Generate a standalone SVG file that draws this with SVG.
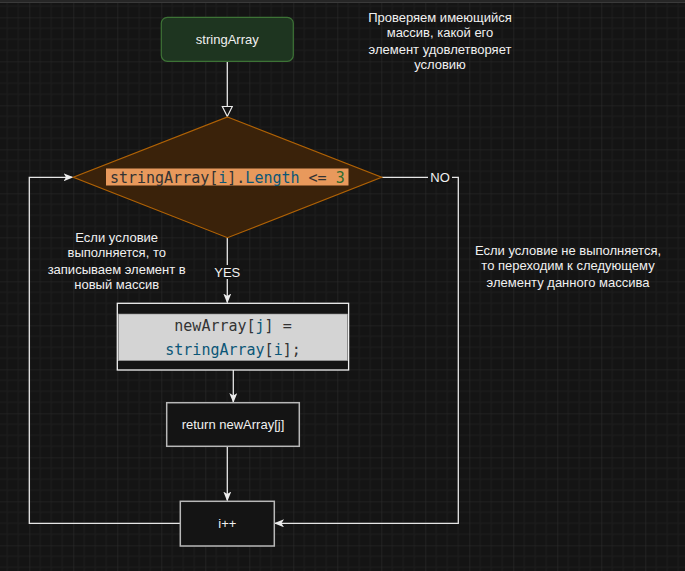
<svg xmlns="http://www.w3.org/2000/svg" width="685" height="571" viewBox="0 0 685 571">
<style>
.lbl{font-family:"Liberation Sans",Arial,sans-serif;font-size:13px;fill:#f0f0f0;text-anchor:middle}
.code{font-family:"DejaVu Sans Mono","Liberation Mono",monospace;font-size:15px;text-anchor:middle}
.conn{fill:none;stroke:#e6e6e6;stroke-width:1.3}
.g{fill:#333333}.b{fill:#0b5677}.n{fill:#2e6b2e}
</style>
<defs>
<pattern id="grid" patternUnits="userSpaceOnUse" x="29.3" y="17.3" width="44" height="44">
<path d="M11,0V44M22,0V44M33,0V44M0,11H44M0,22H44M0,33H44" stroke="#1d1d1d" stroke-width="1"/>
<path d="M0,0V44M0,0H44" stroke="#2b2b2b" stroke-width="1.2"/>
</pattern>
<marker id="arr" viewBox="0 0 10 8" refX="9" refY="4" markerWidth="10" markerHeight="8" markerUnits="userSpaceOnUse" orient="auto">
<path d="M0,0 L10,4 L0,8 L2.5,4 Z" fill="#ececec"/>
</marker>
<marker id="open" viewBox="0 0 12 12" refX="1" refY="6" markerWidth="12" markerHeight="12" markerUnits="userSpaceOnUse" orient="auto">
<path d="M1,1 L11,6 L1,11 Z" fill="#141414" stroke="#ececec" stroke-width="1.2"/>
</marker>
</defs>
<rect width="685" height="571" fill="#141414"/>
<rect width="685" height="571" fill="url(#grid)"/>
<rect width="685" height="3" fill="#262626"/>
<line x1="0" y1="2.5" x2="685" y2="2.5" stroke="#3a3a3a"/>

<g id="connectors">
<path class="conn" d="M227.3,61.5 V106.5" marker-end="url(#open)"/>
<path class="conn" d="M227.3,238 V302.5" marker-end="url(#arr)"/>
<path class="conn" d="M233.3,370 V402" marker-end="url(#arr)"/>
<path class="conn" d="M227.3,446.5 V500.5" marker-end="url(#arr)"/>
<path class="conn" d="M180.3,523.3 H29.3 V177.3 H72.5" marker-end="url(#arr)"/>
<path class="conn" d="M381.7,177.3 H458.3 V523.3 H275" marker-end="url(#arr)"/>
<rect x="428" y="170" width="24" height="14" fill="#141414"/>
<text class="lbl" x="440" y="182">NO</text>
<rect x="211" y="265" width="32" height="14" fill="#141414"/>
<text class="lbl" x="227.3" y="277">YES</text>
</g>

<g id="start">
<rect x="161.3" y="17.3" width="132" height="44" rx="6" fill="#1e3520" stroke="#3d7336" stroke-width="1.2"/>
<text class="lbl" x="227.3" y="44">stringArray</text>
</g>

<g id="decision">
<polygon points="227.5,117 381.7,177.3 227.5,237.7 73.3,177.3" fill="#3a220a" stroke="#b06205" stroke-width="1.2"/>
<rect x="106" y="168.5" width="242.5" height="17" fill="#e8995c"/>
<text class="code" x="227.3" y="182.5"><tspan class="g">stringArray[</tspan><tspan class="b">i</tspan><tspan class="g">].</tspan><tspan class="b">Length</tspan><tspan class="g"> &lt;= </tspan><tspan class="n">3</tspan></text>
</g>

<g id="assign">
<rect x="117.3" y="303.3" width="231.3" height="66.7" fill="#141414" stroke="#f0f0f0" stroke-width="1.3"/>
<rect x="118.3" y="314" width="229.3" height="46.7" fill="#d4d4d4" stroke="#8a8a8a" stroke-width="0.6"/>
<text class="code" x="233" y="331"><tspan class="g">newArray[</tspan><tspan class="b">j</tspan><tspan class="g">] =</tspan></text>
<text class="code" x="233" y="354.5"><tspan class="b">stringArray</tspan><tspan class="g">[</tspan><tspan class="b">i</tspan><tspan class="g">];</tspan></text>
</g>

<g id="return">
<rect x="166.7" y="402.7" width="132.6" height="43.6" fill="#141414" stroke="#b8b8b8" stroke-width="1.5"/>
<text class="lbl" x="233" y="429">return newArray[j]</text>
</g>

<g id="increment">
<rect x="180.3" y="501.3" width="94" height="44.7" fill="#141414" stroke="#b8b8b8" stroke-width="1.5"/>
<text class="lbl" x="227.3" y="528">i++</text>
</g>

<g id="note-top">
<text class="lbl" x="440" y="21.5">Проверяем имеющийся</text>
<text class="lbl" x="440" y="37">массив, какой его</text>
<text class="lbl" x="440" y="54">элемент удовлетворяет</text>
<text class="lbl" x="440" y="69">условию</text>
</g>

<g id="note-left">
<text class="lbl" x="116.7" y="242">Если условие</text>
<text class="lbl" x="116.7" y="257">выполняется, то</text>
<text class="lbl" x="116.7" y="273.5">записываем элемент в</text>
<text class="lbl" x="116.7" y="288.5">новый массив</text>
</g>

<g id="note-right">
<text class="lbl" x="568" y="254.5">Если условие не выполняется,</text>
<text class="lbl" x="568" y="270">то переходим к следующему</text>
<text class="lbl" x="568" y="286.5">элементу данного массива</text>
</g>
</svg>
